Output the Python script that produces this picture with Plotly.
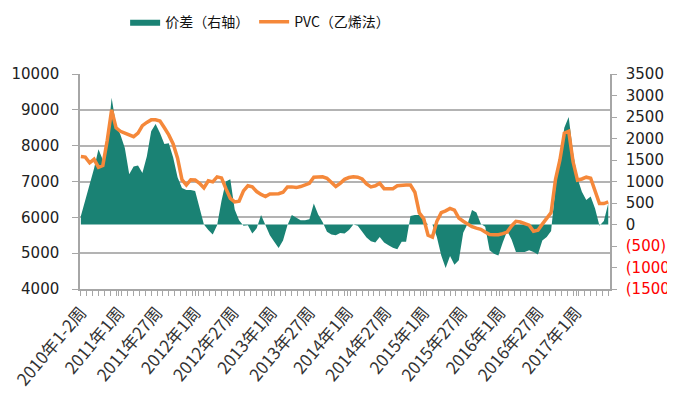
import plotly.graph_objects as go

# category index (weekly categories, sampled every 3 weeks)
week_index = list(range(0, 361, 3))

pvc = [7700, 7680, 7520, 7620, 7400, 7450, 8150, 9000, 8500, 8400,
       8350, 8300, 8250, 8350, 8560, 8650, 8720, 8720, 8690, 8500,
       8300, 8050, 7650, 7050, 6900, 7050, 7040, 6950, 6820, 7020,
       6990, 7130, 7100, 6800, 6530, 6430, 6450, 6740, 6880, 6850,
       6720, 6640, 6580, 6650, 6660, 6660, 6700, 6850, 6850, 6830,
       6860, 6900, 6950, 7120, 7130, 7130, 7090, 6970, 6860, 6950,
       7060, 7110, 7130, 7120, 7070, 6930, 6850, 6880, 6950, 6800,
       6790, 6800, 6880, 6900, 6900, 6900, 6700, 6130, 5965, 5500,
       5450, 5890, 6130, 6180, 6250, 6200, 5980, 5890, 5800, 5740,
       5700, 5665, 5590, 5520, 5515, 5515, 5545, 5590, 5760, 5890,
       5870, 5830, 5780, 5610, 5640, 5810, 5980, 6130, 7060, 7600,
       8350, 8400, 7550, 7040, 7070, 7120, 7090, 6710, 6385, 6385,
       6430]

spread = [200, 550, 900, 1300, 1750, 1500, 1900, 2950, 2300, 2090,
          1780, 1170, 1350, 1370, 1200, 1580, 2170, 2340, 2130, 1870,
          1890, 1560, 1100, 850, 800, 800, 780, 370, 0, -130,
          -230, -20, 550, 1000, 1050, 350, 100, -30, -20, -210,
          -90, 220, 0, -250, -400, -545, -370, -20, 220, 155,
          100, 100, 125, 490, 230, 60, -170, -230, -250, -195,
          -210, -130, 0, -30, -170, -300, -390, -420, -290, -420,
          -480, -540, -575, -400, -400, 200, 220, 220, 100, 0,
          0, -290, -720, -1010, -730, -935, -830, -190, 15, 335,
          280, 20, -55, -600, -680, -720, -420, -150, -350, -640,
          -640, -640, -600, -640, -700, -370, -290, -150, 880, 1500,
          2250, 2500, 1660, 1075, 760, 570, 650, 370, -30, 80,
          490]

tick_labels = ["2010年1-2周", "2011年1周", "2011年27周", "2012年1周", "2012年27周",
               "2013年1周", "2013年27周", "2014年1周", "2014年27周", "2015年1周",
               "2015年27周", "2016年1周", "2016年27周", "2017年1周"]
tick_positions = [26 * k for k in range(len(tick_labels))]

right_vals = [-1500, -1000, -500, 0, 500, 1000, 1500, 2000, 2500, 3000, 3500]
right_text = [("<span style='color:#FF0000'>(%d)</span>" % -v) if v < 0 else str(v) for v in right_vals]

TEAL = "#1A8274"
ORANGE = "#F5883A"
GRID = "#B3B3B3"
AXIS = "#A6A6A6"
FONT = "Noto Sans CJK SC"
NUMFONT = "DejaVu Sans"

fig = go.Figure()
fig.add_trace(go.Scatter(
    x=week_index, y=spread, name="价差（右轴）", mode="lines",
    fill="tozeroy", fillcolor=TEAL, line=dict(width=0, color=TEAL),
    yaxis="y", xaxis="x"))
fig.add_trace(go.Scatter(
    x=week_index, y=pvc, name="PVC（乙烯法）", mode="lines",
    line=dict(width=3.5, color=ORANGE), yaxis="y2", xaxis="x"))

# the page adds an 8px body margin, so the figure is sized to fit the window
fig.update_layout(
    width=667, height=392,
    margin=dict(l=72, r=65, t=66, b=111, autoexpand=False),
    paper_bgcolor="white", plot_bgcolor="white",
    font=dict(family=FONT, size=14, color="#222222"),
    showlegend=True,
    legend=dict(orientation="h", xref="container", x=0.378, xanchor="center",
                yref="container", y=0.964, yanchor="middle",
                font=dict(size=14, color="#111111"), traceorder="normal",
                itemwidth=30, bgcolor="rgba(0,0,0,0)"),
    xaxis=dict(
        range=[-0.6, 361.2], tickmode="array", tickvals=tick_positions, ticktext=tick_labels,
        tickangle=-50, tickfont=dict(size=17, color="#333333"),
        showgrid=False, zeroline=False, automargin=False,
        showline=True, linecolor=AXIS, linewidth=1.5,
        ticks="outside", ticklen=5, tickcolor=AXIS, tickwidth=1,
        minor=dict(dtick=4, tick0=0, ticks="outside", ticklen=5, tickcolor=AXIS, tickwidth=1, showgrid=False),
    ),
    yaxis=dict(
        side="right", range=[-1500, 3500], tickmode="array", tickvals=right_vals, ticktext=right_text,
        tickfont=dict(size=15, family=NUMFONT, color="#222222"),
        showgrid=False, zeroline=False, automargin=False,
        showline=True, linecolor=AXIS, linewidth=1.5,
        ticks="outside", ticklen=5, tickcolor=AXIS, ticklabelstandoff=6,
    ),
    yaxis2=dict(
        overlaying="y", side="left", range=[4000, 10000], dtick=1000, tick0=4000,
        tickformat="d",
        tickfont=dict(size=15, family=NUMFONT, color="#222222"),
        showgrid=True, gridcolor=GRID, gridwidth=1.5, zeroline=False, automargin=False,
        showline=True, linecolor=AXIS, linewidth=1.5,
        ticks="outside", ticklen=6, tickcolor=AXIS, ticklabelstandoff=10,
    ),
)

fig.write_html("out.html")
